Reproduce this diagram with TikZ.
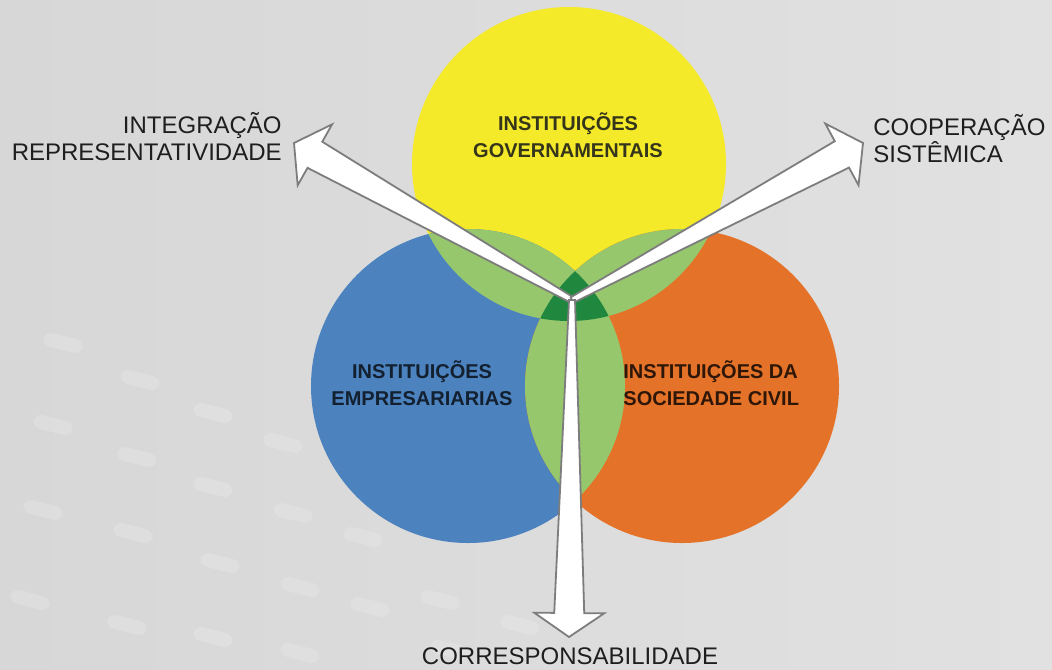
\documentclass[tikz,border=0pt]{standalone}
\usepackage{fontspec}
\setmainfont{Liberation Sans}
\usetikzlibrary{calc}

\definecolor{bgGray}{RGB}{215,215,215}
\definecolor{govYellow}{RGB}{244,234,42}
\definecolor{empBlue}{RGB}{76,130,190}
\definecolor{socOrange}{RGB}{228,114,40}
\definecolor{lensGreen}{RGB}{150,199,108}
\definecolor{coreGreen}{RGB}{32,136,62}
\definecolor{arrowGray}{RGB}{125,125,125}
\definecolor{labelInk}{RGB}{30,30,30}

\newcommand{\rr}{78.5pt}
% wide white arrow from #1 to tip #2
\newcommand{\fatarrow}[2]{%
  \coordinate (h) at ($(#2)!12pt!(#1)$);
  \draw[arrowline] ($(#1)!1.5pt!90:(#2)$) -- ($(h)!7.5pt!-90:(#1)$)
    -- ($(h)!17.5pt!-90:(#1)$) -- (#2) -- ($(h)!17.5pt!90:(#1)$)
    -- ($(h)!7.5pt!90:(#1)$) -- ($(#1)!1.5pt!-90:(#2)$) -- cycle;
}

\tikzset{
  arrowline/.style={fill=white, draw=arrowGray, line width=0.9pt, line join=miter},
  outerlabel/.style={font=\fontsize{12}{13.5}\selectfont, text=labelInk, inner sep=0pt},
  circlelabel/.style={font=\fontsize{10}{13.5}\selectfont\bfseries, inner sep=0pt, align=center},
  bgdash/.style={fill=white, opacity=0.16, rounded corners=4pt}
}

\begin{document}
\begin{tikzpicture}[x=0.5pt, y=-0.5pt]
    \useasboundingbox (0,0) rectangle (1052,669);
    \fill[left color=bgGray, right color=bgGray!75!white] (0,0) rectangle (1052,669);

    % faint dashes of the backdrop
    \foreach \dx/\dy in {63/343, 140/380, 53/425, 213/413, 137/457, 283/443,
                         43/510, 213/487, 293/513, 133/533, 220/563, 363/537,
                         30/600, 127/625, 300/587, 213/637, 370/607, 300/653,
                         440/600, 520/625, 450/650}
      \fill[bgdash, rotate around={-14:(\dx,\dy)}] (\dx-20,\dy-7) rectangle (\dx+20,\dy+7);

    \coordinate (gov) at (569,164);
    \coordinate (emp) at (468,386);
    \coordinate (soc) at (682,386);

    \fill[govYellow] (gov) circle[radius=\rr];
    \fill[empBlue] (emp) circle[radius=\rr];
    \fill[socOrange] (soc) circle[radius=\rr];

    \begin{scope}
      \clip (gov) circle[radius=\rr];
      \fill[lensGreen] (emp) circle[radius=\rr];
      \fill[lensGreen] (soc) circle[radius=\rr];
    \end{scope}
    \begin{scope}
      \clip (emp) circle[radius=\rr];
      \fill[lensGreen] (soc) circle[radius=\rr];
      \clip (soc) circle[radius=\rr];
      \fill[coreGreen] (gov) circle[radius=\rr];
    \end{scope}

    % arrows out of the core
    \coordinate (hub) at (572,300);
    \coordinate (tipL) at (294,143);
    \coordinate (tipR) at (863,143);
    \coordinate (tipB) at (569,637);
    \fatarrow{hub}{tipL}
    \fatarrow{hub}{tipR}
    \fatarrow{hub}{tipB}

    \node[circlelabel, text=labelInk!90!yellow] (govtxt) at (568,135) {INSTITUIÇÕES\\GOVERNAMENTAIS};
    \node[circlelabel, text=empBlue!25!black] (emptxt) at (422,383) {INSTITUIÇÕES\\EMPRESARIARIAS};
    \node[circlelabel, text=socOrange!20!black, align=left, anchor=west] (soctxt) at (623,383) {INSTITUIÇÕES DA\\SOCIEDADE CIVIL};

    \node[outerlabel, align=right, anchor=east] (intg) at (282,137) {INTEGRAÇÃO\\REPRESENTATIVIDADE};
    \node[outerlabel, align=left, anchor=west] (coop) at (873,139) {COOPERAÇÃO\\SISTÊMICA};
    \node[outerlabel, anchor=base] (corr) at (570,664) {CORRESPONSABILIDADE};
\end{tikzpicture}
\end{document}
